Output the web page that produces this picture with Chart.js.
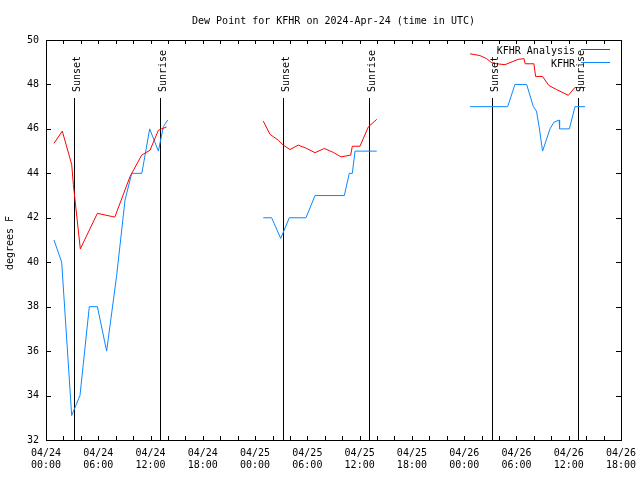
<!DOCTYPE html>
<html><head><meta charset="utf-8">
<script src="https://cdn.jsdelivr.net/npm/chart.js@4/dist/chart.umd.min.js"></script>
<style>html,body{margin:0;padding:0;background:#fff}#wrap{width:640px;height:480px}</style>
</head><body><div id="wrap"><canvas id="c" width="640" height="480"></canvas></div>
<script>
const FONT = '"DejaVu Sans Mono", "Liberation Mono", monospace';
const titleText = 'Dew Point for KFHR on 2024-Apr-24 (time in UTC)';
const yAxisTitle = 'degrees F';
const seriesNames = ['KFHR Analysis', 'KFHR'];
const seriesColors = ['#ff0000', '#0a88ff'];

// x axis: hours since 04/24 00:00 UTC
const xTickHours = [0, 6, 12, 18, 24, 30, 36, 42, 48, 54, 60, 66];
const xTickLabels = [
  ['04/24','00:00'], ['04/24','06:00'], ['04/24','12:00'], ['04/24','18:00'],
  ['04/25','00:00'], ['04/25','06:00'], ['04/25','12:00'], ['04/25','18:00'],
  ['04/26','00:00'], ['04/26','06:00'], ['04/26','12:00'], ['04/26','18:00']
];
const yTickValues = [32, 34, 36, 38, 40, 42, 44, 46, 48, 50];

// KFHR Analysis (null = gap)
const analysisHours = [0.92, 1.87, 2.95, 3.14, 3.94, 5.9, 7.9, 9.64, 10.98, 11.94, 12.9, 13.85,
  20,
  24.94, 25.7, 26.67, 27.24, 28.0, 28.96, 29.92, 30.88, 31.95, 32.98, 33.87, 34.97, 35.16, 36.04, 37.0, 37.96,
  44,
  48.67, 49.8, 50.58, 51.15, 51.73, 52.68, 53.64, 54.2, 54.87, 55.0, 56.0, 56.2, 57.0, 57.7, 58.6, 59.96, 60.7, 61.9];
const analysisDew = [45.35, 45.9, 44.4, 43.5, 40.6, 42.2, 42.03, 43.85, 44.82, 45.04, 45.94, 46.09,
  null,
  46.35, 45.76, 45.49, 45.27, 45.07, 45.27, 45.12, 44.93, 45.12, 44.94, 44.74, 44.82, 45.22, 45.22, 46.09, 46.43,
  null,
  49.38, 49.3, 49.16, 48.98, 48.93, 48.89, 49.04, 49.13, 49.16, 48.93, 48.93, 48.36, 48.36, 47.96, 47.77, 47.51, 47.86, 47.86];

// KFHR observations (null = gap)
const obsHours = [0.92, 1.8, 2.95, 3.9, 4.97, 5.9, 6.96, 8.11, 9.07, 9.84, 11.0, 11.9, 12.9, 13.47, 13.97,
  20,
  24.94, 25.9, 26.94, 27.93, 29.84, 30.88, 34.24, 34.81, 35.16, 35.47, 37.96,
  44,
  48.67, 52.99, 53.83, 55.17, 55.94, 56.3, 56.6, 57.0, 57.85, 58.3, 58.9, 58.95, 60.07, 60.72, 61.87];
const obsDew = [41, 40, 33.1, 34, 38, 38, 36, 39.4, 42.8, 44, 44, 46, 45, 46.1, 46.4,
  null,
  42, 42, 41.07, 42, 42, 43, 43, 44, 44, 45, 45,
  null,
  47, 47, 48, 48, 47, 46.8, 46.1, 45, 46, 46.3, 46.4, 46, 46, 47, 47];

const sunHours = [3.25, 13.12, 27.24, 37.11, 51.23, 61.1];
const sunLabels = ['Sunset', 'Sunrise', 'Sunset', 'Sunrise', 'Sunset', 'Sunrise'];

function pts(xs, ys) { return xs.map((x, i) => ({ x: x, y: ys[i] })); }

const decor = {
  id: 'decor',
  beforeDatasetsDraw(chart) {
    const ctx = chart.ctx, a = chart.chartArea, xs = chart.scales.x;
    ctx.save();
    ctx.strokeStyle = '#000'; ctx.lineWidth = 1;
    sunHours.forEach(h => {
      const px = Math.round(xs.getPixelForValue(h)) + 0.5;
      ctx.beginPath(); ctx.moveTo(px, a.top + 58); ctx.lineTo(px, a.bottom); ctx.stroke();
    });
    ctx.restore();
  },
  afterDraw(chart) {
    const ctx = chart.ctx, a = chart.chartArea, xs = chart.scales.x, ys = chart.scales.y;
    ctx.save();
    ctx.strokeStyle = '#000'; ctx.lineWidth = 1;
    ctx.strokeRect(a.left + 0.5, a.top + 0.5, a.right - a.left, a.bottom - a.top);
    ctx.beginPath();
    for (let h = 2; h < 66; h += 2) {
      const px = Math.round(xs.getPixelForValue(h)) + 0.5;
      ctx.moveTo(px, a.bottom); ctx.lineTo(px, a.bottom - 4);
      ctx.moveTo(px, a.top); ctx.lineTo(px, a.top + 4);
    }
    yTickValues.forEach(v => {
      const py = Math.round(ys.getPixelForValue(v)) + 0.5;
      ctx.moveTo(a.left, py); ctx.lineTo(a.left + 5, py);
      ctx.moveTo(a.right, py); ctx.lineTo(a.right - 5, py);
    });
    ctx.stroke();

    ctx.fillStyle = '#000';
    ctx.font = '10px ' + FONT;
    ctx.textBaseline = 'alphabetic';
    // title
    ctx.textAlign = 'center';
    ctx.fillText(titleText, (a.left + a.right) / 2, 24);
    // y title
    ctx.save();
    ctx.translate(13, (a.top + a.bottom) / 2 + 3);
    ctx.rotate(-Math.PI / 2);
    ctx.fillText(yAxisTitle, 0, 0);
    ctx.restore();
    // sun labels
    sunHours.forEach((h, i) => {
      const px = Math.round(xs.getPixelForValue(h));
      ctx.save();
      ctx.translate(px + 6, a.top + 52);
      ctx.rotate(-Math.PI / 2);
      ctx.textAlign = 'left';
      ctx.fillText(sunLabels[i], 0, 0);
      ctx.restore();
    });
    // legend
    ctx.textAlign = 'right';
    seriesNames.forEach((n, i) => {
      const y = a.top + 9.5 + i * 13;
      ctx.fillStyle = '#000';
      ctx.fillText(n, a.right - 46, y + 4);
      ctx.strokeStyle = seriesColors[i];
      ctx.beginPath(); ctx.moveTo(a.right - 40, y); ctx.lineTo(a.right - 11, y); ctx.stroke();
    });
    ctx.restore();
  }
};

new Chart(document.getElementById('c'), {
  type: 'line',
  data: {
    datasets: [
      { label: seriesNames[0], data: pts(analysisHours, analysisDew), borderColor: seriesColors[0], borderWidth: 1, pointRadius: 0, tension: 0, spanGaps: false, fill: false },
      { label: seriesNames[1], data: pts(obsHours, obsDew), borderColor: seriesColors[1], borderWidth: 1, pointRadius: 0, tension: 0, spanGaps: false, fill: false }
    ]
  },
  options: {
    responsive: false, animation: false, devicePixelRatio: 1,
    layout: { padding: { left: 0, right: 19, top: 40, bottom: 0 } },
    plugins: { legend: { display: false }, title: { display: false }, tooltip: { enabled: false } },
    scales: {
      x: {
        type: 'linear', min: 0, max: 66,
        afterBuildTicks: s => { const t = []; for (let h = 0; h <= 66; h += 2) t.push({ value: h }); s.ticks = t; },
        afterFit: s => { s.height = 40; s.paddingLeft = 0; s.paddingRight = 0; },
        grid: { display: false, drawTicks: false }, border: { display: false },
        ticks: {
          autoSkip: false, maxRotation: 0, minRotation: 0, padding: 7, color: '#000',
          font: { family: FONT, size: 10, lineHeight: 1.25 },
          callback: v => { const i = xTickHours.indexOf(v); return i >= 0 ? xTickLabels[i] : ''; }
        }
      },
      y: {
        min: 32, max: 50,
        afterBuildTicks: s => { s.ticks = yTickValues.map(v => ({ value: v })); },
        afterFit: s => { s.width = 46; s.paddingTop = 0; s.paddingBottom = 0; },
        grid: { display: false, drawTicks: false }, border: { display: false },
        ticks: { padding: 7, color: '#000', font: { family: FONT, size: 10 } }
      }
    }
  },
  plugins: [decor]
});
</script></body></html>
